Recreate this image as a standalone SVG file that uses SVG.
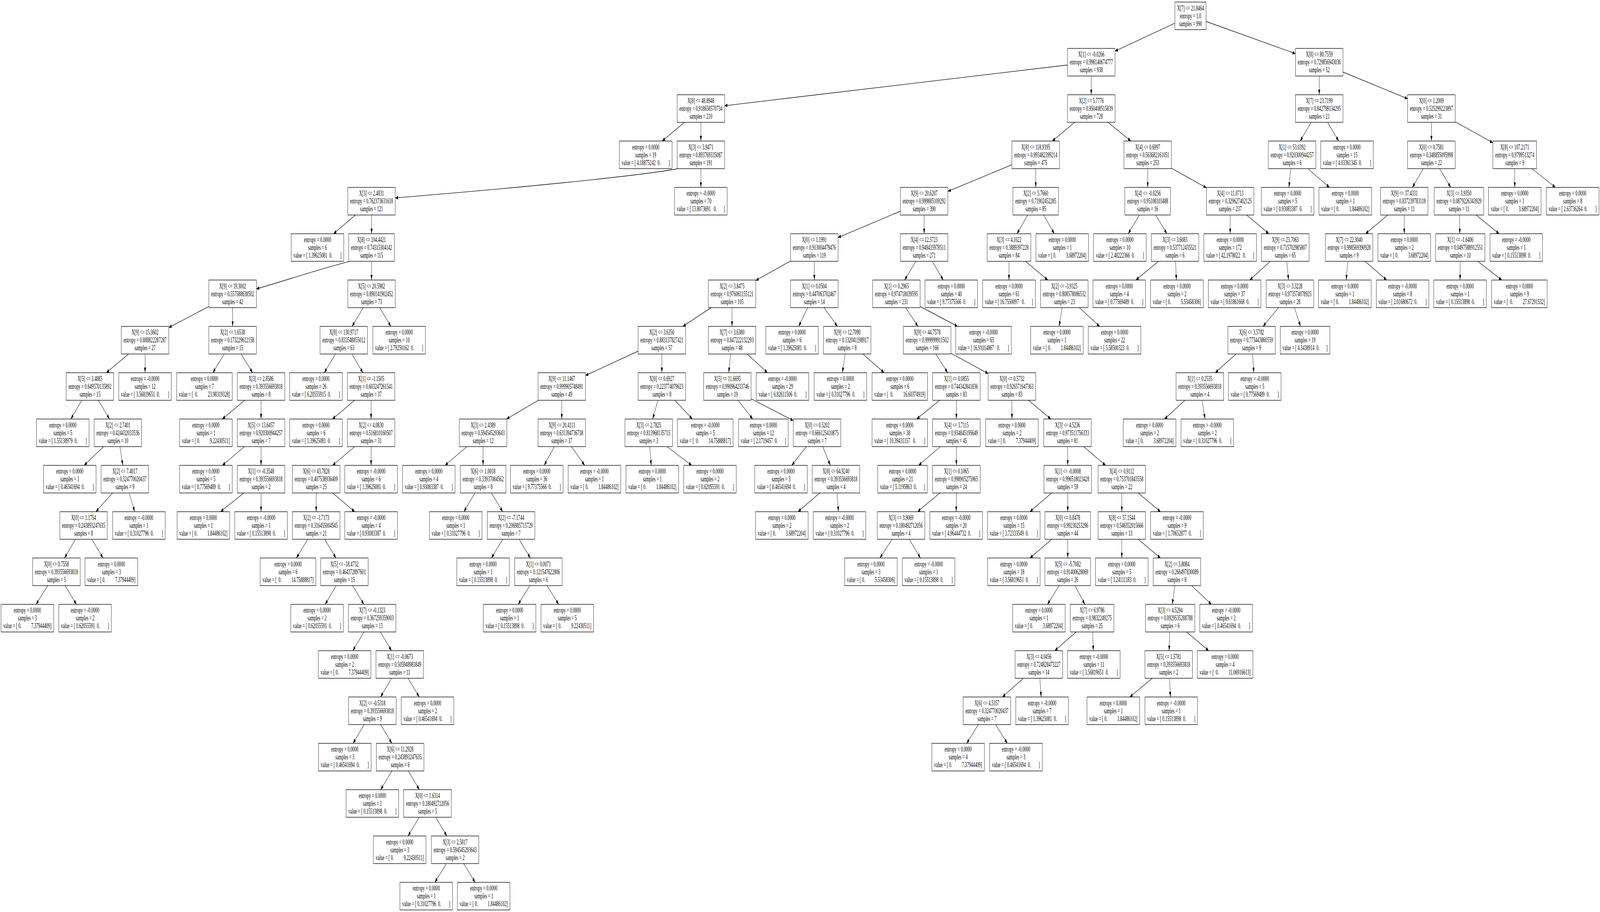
<svg xmlns="http://www.w3.org/2000/svg" width="7545" height="2336" viewBox="0 0 7545 2336" preserveAspectRatio="none" style="width:100vw;height:100vh;display:block" xml:space="preserve">
<style>
text{font-family:"Liberation Serif","Times New Roman",serif;font-size:18.67px;text-anchor:middle;white-space:pre;fill:#000}
.b{fill:#fff;stroke:#000;stroke-width:1.33}
#edges path{fill:none;stroke:#000;stroke-width:1.33;marker-end:url(#ah)}
</style>
<defs>
<marker id="ah" markerUnits="userSpaceOnUse" markerWidth="14" markerHeight="10" refX="13.3" refY="4.67" orient="auto"><path d="M0,0L13.3,4.67L0,9.33z" fill="#000"/></marker>
<rect id="w147" class="b" x="-73.5" width="147" height="70.67"/>
<rect id="w206" class="b" x="-103" width="206" height="70.67"/>
<rect id="w215" class="b" x="-107.5" width="215" height="70.67"/>
<rect id="w224" class="b" x="-112" width="224" height="70.67"/>
<rect id="w233" class="b" x="-116.5" width="233" height="70.67"/>
<rect id="w234" class="b" x="-117" width="234" height="70.67"/>
<rect id="w248" class="b" x="-124" width="248" height="70.67"/>
<rect id="w262" class="b" x="-131" width="262" height="70.67"/>
</defs>
<rect width="7545" height="2336" fill="#fff"/>
<g id="edges">
<path d="M5540.5,59.3L5258,130.9"/><path d="M5687.5,55L6109,137.4"/><path d="M5034,166.5L3417,270.8"/><path d="M5146,194.7L5146,242.7"/><path d="M6221,194.7L6221,242.7"/><path d="M6333,184.5L6638,252.9"/>
<path d="M3227.6,313.3L3122.4,361.3"/><path d="M3305,313.3L3305,361.3"/><path d="M5068,313.3L4962,361.3"/><path d="M5225.2,313.3L5332.8,361.3"/><path d="M6182.9,313.3L6131.1,361.3"/><path d="M6260,313.3L6313,361.3"/><path d="M6750,313.3L6750,361.3"/><path d="M6862,311.8L7040,365.6"/>
<path d="M3197,432C3000,452 2400,483 1864,507"/><path d="M3305,432L3305,480"/><path d="M4772,421.9L4470,490.1"/><path d="M4884,432L4884,480"/><path d="M5412,432L5412,480"/><path d="M5524,430.8L5689,481.1"/><path d="M6086.7,432L6078.3,480"/><path d="M6167.7,432L6269.3,480"/><path d="M6711.9,432L6660.1,480"/><path d="M6788.7,432L6841.3,480"/><path d="M7143,432L7143,480"/><path d="M7224.3,432L7334.7,480"/>
<path d="M1676.1,550.7L1572.9,598.7"/><path d="M1752,550.7L1752,598.7"/><path d="M4246,541L3952,608.3"/><path d="M4358,550.7L4358,598.7"/><path d="M4846.5,550.7L4795.5,598.7"/><path d="M4921.2,550.7L4971.8,598.7"/><path d="M5373,550.7L5320,598.7"/><path d="M5450.4,550.7L5502.6,598.7"/><path d="M5801,550.7L5801,598.7"/><path d="M5878.4,550.7L5983.6,598.7"/><path d="M6544.6,550.7L6439.4,598.7"/><path d="M6622,550.7L6622,598.7"/><path d="M6881.8,550.7L6884.2,598.7"/><path d="M6960.4,550.7L7069.6,598.7"/>
<path d="M1650,669.3C1500,690 1350,718 1209,740"/><path d="M1752,669.3L1752,717.3"/><path d="M3728,668.3L3564,718.4"/><path d="M3840,669.3L3840,717.3"/><path d="M4319,669.3L4266,717.3"/><path d="M4396.1,669.3L4447.9,717.3"/><path d="M4758,669.3L4758,717.3"/><path d="M4835.7,669.3L4941.3,717.3"/><path d="M5462.7,669.3L5356.3,717.3"/><path d="M5543.7,669.3L5547.3,717.3"/><path d="M5989.8,669.3L5893.2,717.3"/><path d="M6067.5,669.3L6076.5,717.3"/><path d="M6356,669.3L6348,717.3"/><path d="M6437,669.3L6539,717.3"/><path d="M6886,669.3L6885,717.3"/><path d="M6969,669.3L7082,717.3"/>
<path d="M985,784.8L796,839.1"/><path d="M1097,788L1097,836"/><path d="M1713,788L1660,836"/><path d="M1790.7,788L1843.3,836"/><path d="M3353.5,788L3219.5,836"/><path d="M3452,788L3452,836"/><path d="M3808.7,788L3766.3,836"/><path d="M3886.1,788L3948.9,836"/><path d="M4270.2,788L4328.8,836"/><path d="M4339,785L4515.6,836"/><path d="M5008.6,788L4994.4,836"/><path d="M5089.6,788L5185.4,836"/><path d="M6029.1,788L5955.9,836"/><path d="M6104.1,788L6132.9,836"/>
<path d="M606.6,906.7L501.4,954.7"/><path d="M684,906.7L684,954.7"/><path d="M1057.4,906.7L1003.6,954.7"/><path d="M1136.9,906.7L1191.1,954.7"/><path d="M1582,906.7L1529,954.7"/><path d="M1659.4,906.7L1711.6,954.7"/><path d="M3009,899.5L2761,961.8"/><path d="M3121,906.7L3121,954.7"/><path d="M3445.5,906.7L3436.5,954.7"/><path d="M3522.9,906.7L3619.1,954.7"/><path d="M3985.5,906.7L3972.5,954.7"/><path d="M4068.8,906.7L4169.2,954.7"/><path d="M4413.1,906.7L4468.9,954.7"/><path d="M4484,904.6L4660,956.8"/><path d="M5829.4,906.7L5730.6,954.7"/><path d="M5906.5,906.7L5912.5,954.7"/>
<path d="M385.9,1025.3L334.1,1073.3"/><path d="M463.3,1025.3L516.7,1073.3"/><path d="M1153.6,1025.3L1048.4,1073.3"/><path d="M1231,1025.3L1231,1073.3"/><path d="M1672.6,1025.3L1567.4,1073.3"/><path d="M1750,1025.3L1750,1073.3"/><path d="M2538.6,1025.3L2388.4,1073.3"/><path d="M2649,1025.3L2649,1073.3"/><path d="M3102.5,1025.3L3077.5,1073.3"/><path d="M3182,1025.3L3265,1073.3"/><path d="M3480.6,1025.3L3549.4,1073.3"/><path d="M3542,1021.4L3741,1077.3"/><path d="M4430.5,1025.3L4322.5,1073.3"/><path d="M4510,1025.3L4510,1073.3"/><path d="M4772,1025.3L4772,1073.3"/><path d="M4850,1025.3L4956,1073.3"/><path d="M5587.4,1025.3L5491.6,1073.3"/><path d="M5668.4,1025.3L5682.6,1073.3"/>
<path d="M488.4,1144L396.6,1192"/><path d="M565.8,1144L579.2,1192"/><path d="M1153.6,1144L1048.4,1192"/><path d="M1231,1144L1231,1192"/><path d="M1672.9,1144L1568.1,1192"/><path d="M1750,1144L1750,1192"/><path d="M2201.8,1144L2098.2,1192"/><path d="M2278,1144L2278,1192"/><path d="M2613.9,1144L2566.1,1192"/><path d="M2694.8,1144L2757.2,1192"/><path d="M3064.1,1144L3070.9,1192"/><path d="M3145,1144L3262,1192"/><path d="M3802.4,1144L3733.6,1192"/><path d="M3879.5,1144L3915.5,1192"/><path d="M4434.4,1144L4331.6,1192"/><path d="M4510,1144L4510,1192"/><path d="M5034,1144L5035,1192"/><path d="M5110.2,1144L5213.8,1192"/>
<path d="M531,1262.7L452,1310.7"/><path d="M608.6,1262.7L635.4,1310.7"/><path d="M1150,1262.7L1040,1310.7"/><path d="M1231,1262.7L1231,1310.7"/><path d="M1491,1262.7L1491,1310.7"/><path d="M1568.1,1262.7L1672.9,1310.7"/><path d="M2239.6,1262.7L2187.4,1310.7"/><path d="M2317.3,1262.7L2370.7,1310.7"/><path d="M3866.1,1262.7L3762.9,1310.7"/><path d="M3947.1,1262.7L3953.9,1310.7"/><path d="M4432.3,1262.7L4326.7,1310.7"/><path d="M4510,1262.7L4509,1310.7"/><path d="M4959.4,1262.7L4856.6,1310.7"/><path d="M5035,1262.7L5035,1310.7"/><path d="M5290,1262.7L5290,1310.7"/><path d="M5367.4,1262.7L5472.6,1310.7"/>
<path d="M355.9,1381.3L304.1,1429.3"/><path d="M433,1381.3L486,1429.3"/><path d="M1451.4,1381.3L1397.6,1429.3"/><path d="M1530.6,1381.3L1584.4,1429.3"/><path d="M2370.7,1381.3L2317.3,1429.3"/><path d="M2448.4,1381.3L2500.6,1429.3"/><path d="M4206.7,1381.3L4149.3,1429.3"/><path d="M4287.7,1381.3L4340.3,1429.3"/><path d="M4959.4,1381.3L4856.6,1429.3"/><path d="M5035,1381.3L5035,1429.3"/><path d="M5290,1381.3L5290,1429.3"/><path d="M5367.4,1381.3L5472.6,1429.3"/>
<path d="M225.2,1500L169.8,1548"/><path d="M306.2,1500L360.8,1548"/><path d="M1585.6,1500L1533.4,1548"/><path d="M1663,1500L1716,1548"/><path d="M2498.5,1500L2443.5,1548"/><path d="M2579.5,1500L2634.5,1548"/><path d="M4994.5,1500L4939.5,1548"/><path d="M5069.2,1500L5115.8,1548"/><path d="M5540.5,1500L5527.5,1548"/><path d="M5619.1,1500L5712.9,1548"/>
<path d="M1716.3,1618.7L1663.7,1666.7"/><path d="M1793.7,1618.7L1846.3,1666.7"/><path d="M5075.3,1618.7L4973.7,1666.7"/><path d="M5152.4,1618.7L5155.6,1666.7"/><path d="M5515.9,1618.7L5513.1,1666.7"/><path d="M5595.1,1618.7L5699.9,1666.7"/>
<path d="M1846.6,1737.3L1794.4,1785.3"/><path d="M1924,1737.3L1977,1785.3"/><path d="M4826.1,1737.3L4726.9,1785.3"/><path d="M4903.5,1737.3L4909.5,1785.3"/><path d="M5433.3,1737.3L5327.7,1785.3"/><path d="M5514.6,1737.3L5519.4,1785.3"/>
<path d="M1717.3,1856L1664.7,1904"/><path d="M1795,1856L1848,1904"/><path d="M4613.5,1856L4558.5,1904"/><path d="M4694.8,1856L4750.2,1904"/>
<path d="M1848,1974.7L1795,2022.7"/><path d="M1925.4,1974.7L1977.6,2022.7"/><path d="M1977,2093.3L1924,2141.3"/><path d="M2054.7,2093.3L2107.3,2141.3"/><path d="M2105.5,2212L2050.5,2260"/><path d="M2186.2,2212L2240.8,2260"/>
</g>
<g id="n0" transform="translate(5614,5.33)"><use href="#w147"/><text y="21.3">X[7] &lt;= 21.8464<tspan x="0" dy="20">entropy = 1.0</tspan><tspan x="0" dy="20">samples = 990</tspan></text></g>
<g id="n1" transform="translate(5146,124)"><use href="#w224"/><text y="21.3">X[1] &lt;= -0.0266<tspan x="0" dy="20">entropy = 0.996140674777</tspan><tspan x="0" dy="20">samples = 938</tspan></text></g>
<g id="n2" transform="translate(6221,124)"><use href="#w224"/><text y="21.3">X[8] &lt;= 80.7559<tspan x="0" dy="20">entropy = 0.729856943036</tspan><tspan x="0" dy="20">samples = 52</tspan></text></g>
<g id="n3" transform="translate(3305,242.67)"><use href="#w224"/><text y="21.3">X[8] &lt;= 48.8948<tspan x="0" dy="20">entropy = 0.918658570734</tspan><tspan x="0" dy="20">samples = 210</tspan></text></g>
<g id="n4" transform="translate(5146,242.67)"><use href="#w224"/><text y="21.3">X[2] &lt;= 5.7776<tspan x="0" dy="20">entropy = 0.950408515839</tspan><tspan x="0" dy="20">samples = 728</tspan></text></g>
<g id="n5" transform="translate(6221,242.67)"><use href="#w224"/><text y="21.3">X[7] &lt;= 23.7199<tspan x="0" dy="20">entropy = 0.842799134295</tspan><tspan x="0" dy="20">samples = 21</tspan></text></g>
<g id="n6" transform="translate(6750,242.67)"><use href="#w224"/><text y="21.3">X[0] &lt;= 1.2009<tspan x="0" dy="20">entropy = 0.525299223897</tspan><tspan x="0" dy="20">samples = 31</tspan></text></g>
<g id="n7" transform="translate(3045,361.33)"><use href="#w248"/><text y="21.3">entropy = 0.0000<tspan x="0" dy="20">samples = 19</tspan><tspan x="0" dy="20">value = [ 4.18875242  0.        ]</tspan></text></g>
<g id="n8" transform="translate(3305,361.33)"><use href="#w224"/><text y="21.3">X[3] &lt;= 3.9471<tspan x="0" dy="20">entropy = 0.893769335087</tspan><tspan x="0" dy="20">samples = 191</tspan></text></g>
<g id="n9" transform="translate(4884,361.33)"><use href="#w224"/><text y="21.3">X[8] &lt;= 118.9395<tspan x="0" dy="20">entropy = 0.993482399214</tspan><tspan x="0" dy="20">samples = 475</tspan></text></g>
<g id="n10" transform="translate(5412,361.33)"><use href="#w224"/><text y="21.3">X[4] &lt;= 0.6997<tspan x="0" dy="20">entropy = 0.563682161051</tspan><tspan x="0" dy="20">samples = 253</tspan></text></g>
<g id="n11" transform="translate(6093,361.33)"><use href="#w224"/><text y="21.3">X[1] &lt;= 53.0392<tspan x="0" dy="20">entropy = 0.920300944257</tspan><tspan x="0" dy="20">samples = 6</tspan></text></g>
<g id="n12" transform="translate(6352,361.33)"><use href="#w248"/><text y="21.3">entropy = 0.0000<tspan x="0" dy="20">samples = 15</tspan><tspan x="0" dy="20">value = [ 4.03361345  0.        ]</tspan></text></g>
<g id="n13" transform="translate(6750,361.33)"><use href="#w224"/><text y="21.3">X[0] &lt;= 0.7581<tspan x="0" dy="20">entropy = 0.348855095998</tspan><tspan x="0" dy="20">samples = 22</tspan></text></g>
<g id="n14" transform="translate(7143,361.33)"><use href="#w206"/><text y="21.3">X[8] &lt;= 107.2171<tspan x="0" dy="20">entropy = 0.9799513274</tspan><tspan x="0" dy="20">samples = 9</tspan></text></g>
<g id="n15" transform="translate(1752,480)"><use href="#w224"/><text y="21.3">X[3] &lt;= 2.4831<tspan x="0" dy="20">entropy = 0.762373631618</tspan><tspan x="0" dy="20">samples = 121</tspan></text></g>
<g id="n16" transform="translate(3305,480)"><use href="#w248"/><text y="21.3">entropy = -0.0000<tspan x="0" dy="20">samples = 70</tspan><tspan x="0" dy="20">value = [ 13.8073691   0.       ]</tspan></text></g>
<g id="n17" transform="translate(4358,480)"><use href="#w224"/><text y="21.3">X[9] &lt;= 20.6207<tspan x="0" dy="20">entropy = 0.999885109292</tspan><tspan x="0" dy="20">samples = 390</tspan></text></g>
<g id="n18" transform="translate(4884,480)"><use href="#w215"/><text y="21.3">X[2] &lt;= 5.7660<tspan x="0" dy="20">entropy = 0.71902452285</tspan><tspan x="0" dy="20">samples = 85</tspan></text></g>
<g id="n19" transform="translate(5412,480)"><use href="#w215"/><text y="21.3">X[4] &lt;= -0.0256<tspan x="0" dy="20">entropy = 0.95108103488</tspan><tspan x="0" dy="20">samples = 16</tspan></text></g>
<g id="n20" transform="translate(5801,480)"><use href="#w224"/><text y="21.3">X[4] &lt;= 11.0713<tspan x="0" dy="20">entropy = 0.329627402125</tspan><tspan x="0" dy="20">samples = 237</tspan></text></g>
<g id="n21" transform="translate(6072,480)"><use href="#w248"/><text y="21.3">entropy = 0.0000<tspan x="0" dy="20">samples = 5</tspan><tspan x="0" dy="20">value = [ 0.93083387  0.        ]</tspan></text></g>
<g id="n22" transform="translate(6344,480)"><use href="#w248"/><text y="21.3">entropy = 0.0000<tspan x="0" dy="20">samples = 1</tspan><tspan x="0" dy="20">value = [ 0.          1.84486102]</tspan></text></g>
<g id="n23" transform="translate(6622,480)"><use href="#w224"/><text y="21.3">X[9] &lt;= 37.4331<tspan x="0" dy="20">entropy = 0.837239783118</tspan><tspan x="0" dy="20">samples = 11</tspan></text></g>
<g id="n24" transform="translate(6880,480)"><use href="#w233"/><text y="21.3">X[3] &lt;= 3.9350<tspan x="0" dy="20">entropy = 0.0879226343929</tspan><tspan x="0" dy="20">samples = 11</tspan></text></g>
<g id="n25" transform="translate(7143,480)"><use href="#w248"/><text y="21.3">entropy = 0.0000<tspan x="0" dy="20">samples = 1</tspan><tspan x="0" dy="20">value = [ 0.          3.68972204]</tspan></text></g>
<g id="n26" transform="translate(7416,480)"><use href="#w248"/><text y="21.3">entropy = 0.0000<tspan x="0" dy="20">samples = 8</tspan><tspan x="0" dy="20">value = [ 2.63736264  0.        ]</tspan></text></g>
<g id="n27" transform="translate(1497,598.67)"><use href="#w248"/><text y="21.3">entropy = 0.0000<tspan x="0" dy="20">samples = 6</tspan><tspan x="0" dy="20">value = [ 1.39625081  0.        ]</tspan></text></g>
<g id="n28" transform="translate(1752,598.67)"><use href="#w215"/><text y="21.3">X[8] &lt;= 104.4421<tspan x="0" dy="20">entropy = 0.74315304142</tspan><tspan x="0" dy="20">samples = 115</tspan></text></g>
<g id="n29" transform="translate(3840,598.67)"><use href="#w224"/><text y="21.3">X[0] &lt;= 1.1991<tspan x="0" dy="20">entropy = 0.913004479476</tspan><tspan x="0" dy="20">samples = 119</tspan></text></g>
<g id="n30" transform="translate(4358,598.67)"><use href="#w224"/><text y="21.3">X[4] &lt;= 12.5723<tspan x="0" dy="20">entropy = 0.948435978511</tspan><tspan x="0" dy="20">samples = 271</tspan></text></g>
<g id="n31" transform="translate(4758,598.67)"><use href="#w206"/><text y="21.3">X[3] &lt;= 4.1022<tspan x="0" dy="20">entropy = 0.3889397228</tspan><tspan x="0" dy="20">samples = 84</tspan></text></g>
<g id="n32" transform="translate(5009,598.67)"><use href="#w248"/><text y="21.3">entropy = 0.0000<tspan x="0" dy="20">samples = 1</tspan><tspan x="0" dy="20">value = [ 0.          3.68972204]</tspan></text></g>
<g id="n33" transform="translate(5281,598.67)"><use href="#w248"/><text y="21.3">entropy = 0.0000<tspan x="0" dy="20">samples = 10</tspan><tspan x="0" dy="20">value = [ 2.48222366  0.        ]</tspan></text></g>
<g id="n34" transform="translate(5541,598.67)"><use href="#w224"/><text y="21.3">X[3] &lt;= 3.6083<tspan x="0" dy="20">entropy = 0.537712435521</tspan><tspan x="0" dy="20">samples = 6</tspan></text></g>
<g id="n35" transform="translate(5801,598.67)"><use href="#w248"/><text y="21.3">entropy = 0.0000<tspan x="0" dy="20">samples = 172</tspan><tspan x="0" dy="20">value = [ 42.1978022   0.       ]</tspan></text></g>
<g id="n36" transform="translate(6061,598.67)"><use href="#w224"/><text y="21.3">X[9] &lt;= 23.7063<tspan x="0" dy="20">entropy = 0.715702985807</tspan><tspan x="0" dy="20">samples = 65</tspan></text></g>
<g id="n37" transform="translate(6362,598.67)"><use href="#w224"/><text y="21.3">X[7] &lt;= 22.3040<tspan x="0" dy="20">entropy = 0.998569390928</tspan><tspan x="0" dy="20">samples = 9</tspan></text></g>
<g id="n38" transform="translate(6622,598.67)"><use href="#w248"/><text y="21.3">entropy = 0.0000<tspan x="0" dy="20">samples = 2</tspan><tspan x="0" dy="20">value = [ 0.          3.68972204]</tspan></text></g>
<g id="n39" transform="translate(6886,598.67)"><use href="#w233"/><text y="21.3">X[1] &lt;= -1.6406<tspan x="0" dy="20">entropy = 0.0497588912551</tspan><tspan x="0" dy="20">samples = 10</tspan></text></g>
<g id="n40" transform="translate(7150,598.67)"><use href="#w248"/><text y="21.3">entropy = -0.0000<tspan x="0" dy="20">samples = 1</tspan><tspan x="0" dy="20">value = [ 0.15513898  0.        ]</tspan></text></g>
<g id="n41" transform="translate(1097,717.33)"><use href="#w224"/><text y="21.3">X[9] &lt;= 19.3002<tspan x="0" dy="20">entropy = 0.557588638502</tspan><tspan x="0" dy="20">samples = 42</tspan></text></g>
<g id="n42" transform="translate(1752,717.33)"><use href="#w224"/><text y="21.3">X[5] &lt;= 20.5982<tspan x="0" dy="20">entropy = 0.890141902452</tspan><tspan x="0" dy="20">samples = 73</tspan></text></g>
<g id="n43" transform="translate(3452,717.33)"><use href="#w224"/><text y="21.3">X[2] &lt;= 3.8475<tspan x="0" dy="20">entropy = 0.976061155121</tspan><tspan x="0" dy="20">samples = 105</tspan></text></g>
<g id="n44" transform="translate(3840,717.33)"><use href="#w224"/><text y="21.3">X[1] &lt;= 0.0504<tspan x="0" dy="20">entropy = 0.447063702467</tspan><tspan x="0" dy="20">samples = 14</tspan></text></g>
<g id="n45" transform="translate(4227,717.33)"><use href="#w224"/><text y="21.3">X[1] &lt;= 0.2965<tspan x="0" dy="20">entropy = 0.974718039595</tspan><tspan x="0" dy="20">samples = 231</tspan></text></g>
<g id="n46" transform="translate(4486,717.33)"><use href="#w248"/><text y="21.3">entropy = 0.0000<tspan x="0" dy="20">samples = 40</tspan><tspan x="0" dy="20">value = [ 9.77375566  0.        ]</tspan></text></g>
<g id="n47" transform="translate(4758,717.33)"><use href="#w248"/><text y="21.3">entropy = 0.0000<tspan x="0" dy="20">samples = 61</tspan><tspan x="0" dy="20">value = [ 16.7550097   0.       ]</tspan></text></g>
<g id="n48" transform="translate(5019,717.33)"><use href="#w224"/><text y="21.3">X[2] &lt;= -3.9325<tspan x="0" dy="20">entropy = 0.808578086532</tspan><tspan x="0" dy="20">samples = 23</tspan></text></g>
<g id="n49" transform="translate(5278,717.33)"><use href="#w248"/><text y="21.3">entropy = 0.0000<tspan x="0" dy="20">samples = 4</tspan><tspan x="0" dy="20">value = [ 0.77569489  0.        ]</tspan></text></g>
<g id="n50" transform="translate(5550,717.33)"><use href="#w248"/><text y="21.3">entropy = 0.0000<tspan x="0" dy="20">samples = 2</tspan><tspan x="0" dy="20">value = [ 0.          5.53458306]</tspan></text></g>
<g id="n51" transform="translate(5822,717.33)"><use href="#w248"/><text y="21.3">entropy = 0.0000<tspan x="0" dy="20">samples = 37</tspan><tspan x="0" dy="20">value = [ 9.61861668  0.        ]</tspan></text></g>
<g id="n52" transform="translate(6083,717.33)"><use href="#w224"/><text y="21.3">X[3] &lt;= 3.3228<tspan x="0" dy="20">entropy = 0.973574078925</tspan><tspan x="0" dy="20">samples = 28</tspan></text></g>
<g id="n53" transform="translate(6342,717.33)"><use href="#w248"/><text y="21.3">entropy = 0.0000<tspan x="0" dy="20">samples = 1</tspan><tspan x="0" dy="20">value = [ 0.          1.84486102]</tspan></text></g>
<g id="n54" transform="translate(6614,717.33)"><use href="#w248"/><text y="21.3">entropy = -0.0000<tspan x="0" dy="20">samples = 8</tspan><tspan x="0" dy="20">value = [ 2.01680672  0.        ]</tspan></text></g>
<g id="n55" transform="translate(6885,717.33)"><use href="#w248"/><text y="21.3">entropy = 0.0000<tspan x="0" dy="20">samples = 1</tspan><tspan x="0" dy="20">value = [ 0.15513898  0.        ]</tspan></text></g>
<g id="n56" transform="translate(7165,717.33)"><use href="#w262"/><text y="21.3">entropy = 0.0000<tspan x="0" dy="20">samples = 9</tspan><tspan x="0" dy="20">value = [  0.          27.67291532]</tspan></text></g>
<g id="n57" transform="translate(684,836)"><use href="#w224"/><text y="21.3">X[9] &lt;= 15.3602<tspan x="0" dy="20">entropy = 0.888822287287</tspan><tspan x="0" dy="20">samples = 27</tspan></text></g>
<g id="n58" transform="translate(1097,836)"><use href="#w224"/><text y="21.3">X[2] &lt;= 1.6538<tspan x="0" dy="20">entropy = 0.173229612158</tspan><tspan x="0" dy="20">samples = 15</tspan></text></g>
<g id="n59" transform="translate(1621,836)"><use href="#w224"/><text y="21.3">X[8] &lt;= 130.9717<tspan x="0" dy="20">entropy = 0.833548855012</tspan><tspan x="0" dy="20">samples = 63</tspan></text></g>
<g id="n60" transform="translate(1882,836)"><use href="#w248"/><text y="21.3">entropy = 0.0000<tspan x="0" dy="20">samples = 10</tspan><tspan x="0" dy="20">value = [ 2.79250162  0.        ]</tspan></text></g>
<g id="n61" transform="translate(3121,836)"><use href="#w224"/><text y="21.3">X[2] &lt;= 3.6350<tspan x="0" dy="20">entropy = 0.883137827421</tspan><tspan x="0" dy="20">samples = 57</tspan></text></g>
<g id="n62" transform="translate(3452,836)"><use href="#w224"/><text y="21.3">X[7] &lt;= 3.6380<tspan x="0" dy="20">entropy = 0.847222132293</tspan><tspan x="0" dy="20">samples = 48</tspan></text></g>
<g id="n63" transform="translate(3735,836)"><use href="#w248"/><text y="21.3">entropy = 0.0000<tspan x="0" dy="20">samples = 6</tspan><tspan x="0" dy="20">value = [ 1.39625081  0.        ]</tspan></text></g>
<g id="n64" transform="translate(3995,836)"><use href="#w224"/><text y="21.3">X[9] &lt;= 12.7090<tspan x="0" dy="20">entropy = 0.132041198917</tspan><tspan x="0" dy="20">samples = 8</tspan></text></g>
<g id="n65" transform="translate(4372,836)"><use href="#w224"/><text y="21.3">X[9] &lt;= 44.7578<tspan x="0" dy="20">entropy = 0.999999911502</tspan><tspan x="0" dy="20">samples = 166</tspan></text></g>
<g id="n66" transform="translate(4638,836)"><use href="#w262"/><text y="21.3">entropy = -0.0000<tspan x="0" dy="20">samples = 65</tspan><tspan x="0" dy="20">value = [ 16.91014867   0.        ]</tspan></text></g>
<g id="n67" transform="translate(4984,836)"><use href="#w248"/><text y="21.3">entropy = 0.0000<tspan x="0" dy="20">samples = 1</tspan><tspan x="0" dy="20">value = [ 0.          1.84486102]</tspan></text></g>
<g id="n68" transform="translate(5256,836)"><use href="#w248"/><text y="21.3">entropy = 0.0000<tspan x="0" dy="20">samples = 22</tspan><tspan x="0" dy="20">value = [ 5.58500323  0.        ]</tspan></text></g>
<g id="n69" transform="translate(5902,836)"><use href="#w224"/><text y="21.3">X[6] &lt;= 3.5782<tspan x="0" dy="20">entropy = 0.773443860559</tspan><tspan x="0" dy="20">samples = 9</tspan></text></g>
<g id="n70" transform="translate(6154,836)"><use href="#w234"/><text y="21.3">entropy = 0.0000<tspan x="0" dy="20">samples = 19</tspan><tspan x="0" dy="20">value = [ 4.3438914  0.       ]</tspan></text></g>
<g id="n71" transform="translate(424,954.67)"><use href="#w224"/><text y="21.3">X[5] &lt;= 3.4885<tspan x="0" dy="20">entropy = 0.649570135892</tspan><tspan x="0" dy="20">samples = 15</tspan></text></g>
<g id="n72" transform="translate(684,954.67)"><use href="#w248"/><text y="21.3">entropy = -0.0000<tspan x="0" dy="20">samples = 12</tspan><tspan x="0" dy="20">value = [ 3.56819651  0.        ]</tspan></text></g>
<g id="n73" transform="translate(964,954.67)"><use href="#w262"/><text y="21.3">entropy = 0.0000<tspan x="0" dy="20">samples = 7</tspan><tspan x="0" dy="20">value = [  0.          23.98319328]</tspan></text></g>
<g id="n74" transform="translate(1231,954.67)"><use href="#w224"/><text y="21.3">X[3] &lt;= 2.8586<tspan x="0" dy="20">entropy = 0.393556693818</tspan><tspan x="0" dy="20">samples = 8</tspan></text></g>
<g id="n75" transform="translate(1490,954.67)"><use href="#w248"/><text y="21.3">entropy = 0.0000<tspan x="0" dy="20">samples = 26</tspan><tspan x="0" dy="20">value = [ 6.20555915  0.        ]</tspan></text></g>
<g id="n76" transform="translate(1750,954.67)"><use href="#w224"/><text y="21.3">X[1] &lt;= -1.1505<tspan x="0" dy="20">entropy = 0.603247261541</tspan><tspan x="0" dy="20">samples = 37</tspan></text></g>
<g id="n77" transform="translate(2649,954.67)"><use href="#w224"/><text y="21.3">X[9] &lt;= 11.1467<tspan x="0" dy="20">entropy = 0.999905748491</tspan><tspan x="0" dy="20">samples = 49</tspan></text></g>
<g id="n78" transform="translate(3121,954.67)"><use href="#w224"/><text y="21.3">X[0] &lt;= 0.6927<tspan x="0" dy="20">entropy = 0.223774079623</tspan><tspan x="0" dy="20">samples = 8</tspan></text></g>
<g id="n79" transform="translate(3430,954.67)"><use href="#w224"/><text y="21.3">X[5] &lt;= 11.6695<tspan x="0" dy="20">entropy = 0.990964233746</tspan><tspan x="0" dy="20">samples = 19</tspan></text></g>
<g id="n80" transform="translate(3690,954.67)"><use href="#w248"/><text y="21.3">entropy = -0.0000<tspan x="0" dy="20">samples = 29</tspan><tspan x="0" dy="20">value = [ 6.82611506  0.        ]</tspan></text></g>
<g id="n81" transform="translate(3963,954.67)"><use href="#w248"/><text y="21.3">entropy = 0.0000<tspan x="0" dy="20">samples = 2</tspan><tspan x="0" dy="20">value = [ 0.31027796  0.        ]</tspan></text></g>
<g id="n82" transform="translate(4243,954.67)"><use href="#w262"/><text y="21.3">entropy = 0.0000<tspan x="0" dy="20">samples = 6</tspan><tspan x="0" dy="20">value = [  0.          16.60374919]</tspan></text></g>
<g id="n83" transform="translate(4510,954.67)"><use href="#w224"/><text y="21.3">X[1] &lt;= 0.0855<tspan x="0" dy="20">entropy = 0.744342841836</tspan><tspan x="0" dy="20">samples = 83</tspan></text></g>
<g id="n84" transform="translate(4772,954.67)"><use href="#w224"/><text y="21.3">X[0] &lt;= 0.5732<tspan x="0" dy="20">entropy = 0.926571647363</tspan><tspan x="0" dy="20">samples = 83</tspan></text></g>
<g id="n85" transform="translate(5658,954.67)"><use href="#w224"/><text y="21.3">X[1] &lt;= 0.2535<tspan x="0" dy="20">entropy = 0.393556693818</tspan><tspan x="0" dy="20">samples = 4</tspan></text></g>
<g id="n86" transform="translate(5917,954.67)"><use href="#w248"/><text y="21.3">entropy = -0.0000<tspan x="0" dy="20">samples = 5</tspan><tspan x="0" dy="20">value = [ 0.77569489  0.        ]</tspan></text></g>
<g id="n87" transform="translate(296,1073.33)"><use href="#w248"/><text y="21.3">entropy = 0.0000<tspan x="0" dy="20">samples = 5</tspan><tspan x="0" dy="20">value = [ 1.55138979  0.        ]</tspan></text></g>
<g id="n88" transform="translate(556,1073.33)"><use href="#w224"/><text y="21.3">X[2] &lt;= 2.7401<tspan x="0" dy="20">entropy = 0.424432033536</tspan><tspan x="0" dy="20">samples = 10</tspan></text></g>
<g id="n89" transform="translate(971,1073.33)"><use href="#w248"/><text y="21.3">entropy = 0.0000<tspan x="0" dy="20">samples = 1</tspan><tspan x="0" dy="20">value = [ 0.          9.22430511]</tspan></text></g>
<g id="n90" transform="translate(1231,1073.33)"><use href="#w224"/><text y="21.3">X[5] &lt;= 13.6457<tspan x="0" dy="20">entropy = 0.920300944257</tspan><tspan x="0" dy="20">samples = 7</tspan></text></g>
<g id="n91" transform="translate(1490,1073.33)"><use href="#w248"/><text y="21.3">entropy = 0.0000<tspan x="0" dy="20">samples = 6</tspan><tspan x="0" dy="20">value = [ 1.39625081  0.        ]</tspan></text></g>
<g id="n92" transform="translate(1750,1073.33)"><use href="#w224"/><text y="21.3">X[2] &lt;= 4.0830<tspan x="0" dy="20">entropy = 0.516810160507</tspan><tspan x="0" dy="20">samples = 31</tspan></text></g>
<g id="n93" transform="translate(2278,1073.33)"><use href="#w224"/><text y="21.3">X[3] &lt;= 2.4389<tspan x="0" dy="20">entropy = 0.594545293643</tspan><tspan x="0" dy="20">samples = 12</tspan></text></g>
<g id="n94" transform="translate(2649,1073.33)"><use href="#w224"/><text y="21.3">X[9] &lt;= 20.4111<tspan x="0" dy="20">entropy = 0.631394736738</tspan><tspan x="0" dy="20">samples = 37</tspan></text></g>
<g id="n95" transform="translate(3059,1073.33)"><use href="#w224"/><text y="21.3">X[3] &lt;= 2.7825<tspan x="0" dy="20">entropy = 0.813968135715</tspan><tspan x="0" dy="20">samples = 3</tspan></text></g>
<g id="n96" transform="translate(3326,1073.33)"><use href="#w262"/><text y="21.3">entropy = -0.0000<tspan x="0" dy="20">samples = 5</tspan><tspan x="0" dy="20">value = [  0.          14.75888817]</tspan></text></g>
<g id="n97" transform="translate(3600,1073.33)"><use href="#w234"/><text y="21.3">entropy = 0.0000<tspan x="0" dy="20">samples = 12</tspan><tspan x="0" dy="20">value = [ 2.1719457  0.       ]</tspan></text></g>
<g id="n98" transform="translate(3853,1073.33)"><use href="#w224"/><text y="21.3">X[0] &lt;= 0.5202<tspan x="0" dy="20">entropy = 0.666125410875</tspan><tspan x="0" dy="20">samples = 7</tspan></text></g>
<g id="n99" transform="translate(4243,1073.33)"><use href="#w262"/><text y="21.3">entropy = 0.0000<tspan x="0" dy="20">samples = 38</tspan><tspan x="0" dy="20">value = [ 10.39431157   0.        ]</tspan></text></g>
<g id="n100" transform="translate(4510,1073.33)"><use href="#w224"/><text y="21.3">X[4] &lt;= 3.7115<tspan x="0" dy="20">entropy = 0.934845195649</tspan><tspan x="0" dy="20">samples = 45</tspan></text></g>
<g id="n101" transform="translate(4772,1073.33)"><use href="#w248"/><text y="21.3">entropy = 0.0000<tspan x="0" dy="20">samples = 2</tspan><tspan x="0" dy="20">value = [ 0.          7.37944409]</tspan></text></g>
<g id="n102" transform="translate(5034,1073.33)"><use href="#w224"/><text y="21.3">X[3] &lt;= 4.5236<tspan x="0" dy="20">entropy = 0.973511756333</tspan><tspan x="0" dy="20">samples = 81</tspan></text></g>
<g id="n103" transform="translate(5421,1073.33)"><use href="#w248"/><text y="21.3">entropy = 0.0000<tspan x="0" dy="20">samples = 2</tspan><tspan x="0" dy="20">value = [ 0.          3.68972204]</tspan></text></g>
<g id="n104" transform="translate(5693,1073.33)"><use href="#w248"/><text y="21.3">entropy = -0.0000<tspan x="0" dy="20">samples = 2</tspan><tspan x="0" dy="20">value = [ 0.31027796  0.        ]</tspan></text></g>
<g id="n105" transform="translate(329,1192)"><use href="#w248"/><text y="21.3">entropy = 0.0000<tspan x="0" dy="20">samples = 1</tspan><tspan x="0" dy="20">value = [ 0.46541694  0.        ]</tspan></text></g>
<g id="n106" transform="translate(589,1192)"><use href="#w224"/><text y="21.3">X[2] &lt;= 7.4017<tspan x="0" dy="20">entropy = 0.324770020437</tspan><tspan x="0" dy="20">samples = 9</tspan></text></g>
<g id="n107" transform="translate(971,1192)"><use href="#w248"/><text y="21.3">entropy = 0.0000<tspan x="0" dy="20">samples = 5</tspan><tspan x="0" dy="20">value = [ 0.77569489  0.        ]</tspan></text></g>
<g id="n108" transform="translate(1231,1192)"><use href="#w224"/><text y="21.3">X[1] &lt;= -0.3548<tspan x="0" dy="20">entropy = 0.393556693818</tspan><tspan x="0" dy="20">samples = 2</tspan></text></g>
<g id="n109" transform="translate(1491,1192)"><use href="#w224"/><text y="21.3">X[6] &lt;= 43.7828<tspan x="0" dy="20">entropy = 0.407538936409</tspan><tspan x="0" dy="20">samples = 25</tspan></text></g>
<g id="n110" transform="translate(1750,1192)"><use href="#w248"/><text y="21.3">entropy = -0.0000<tspan x="0" dy="20">samples = 6</tspan><tspan x="0" dy="20">value = [ 1.39625081  0.        ]</tspan></text></g>
<g id="n111" transform="translate(2022,1192)"><use href="#w248"/><text y="21.3">entropy = 0.0000<tspan x="0" dy="20">samples = 4</tspan><tspan x="0" dy="20">value = [ 0.93083387  0.        ]</tspan></text></g>
<g id="n112" transform="translate(2278,1192)"><use href="#w215"/><text y="21.3">X[6] &lt;= 1.0018<tspan x="0" dy="20">entropy = 0.33937084562</tspan><tspan x="0" dy="20">samples = 8</tspan></text></g>
<g id="n113" transform="translate(2531,1192)"><use href="#w248"/><text y="21.3">entropy = 0.0000<tspan x="0" dy="20">samples = 36</tspan><tspan x="0" dy="20">value = [ 9.77375566  0.        ]</tspan></text></g>
<g id="n114" transform="translate(2803,1192)"><use href="#w248"/><text y="21.3">entropy = -0.0000<tspan x="0" dy="20">samples = 1</tspan><tspan x="0" dy="20">value = [ 0.          1.84486102]</tspan></text></g>
<g id="n115" transform="translate(3076,1192)"><use href="#w248"/><text y="21.3">entropy = 0.0000<tspan x="0" dy="20">samples = 1</tspan><tspan x="0" dy="20">value = [ 0.          1.84486102]</tspan></text></g>
<g id="n116" transform="translate(3348,1192)"><use href="#w248"/><text y="21.3">entropy = 0.0000<tspan x="0" dy="20">samples = 2</tspan><tspan x="0" dy="20">value = [ 0.62055591  0.        ]</tspan></text></g>
<g id="n117" transform="translate(3683,1192)"><use href="#w248"/><text y="21.3">entropy = 0.0000<tspan x="0" dy="20">samples = 3</tspan><tspan x="0" dy="20">value = [ 0.46541694  0.        ]</tspan></text></g>
<g id="n118" transform="translate(3942,1192)"><use href="#w224"/><text y="21.3">X[8] &lt;= 64.9240<tspan x="0" dy="20">entropy = 0.393556693818</tspan><tspan x="0" dy="20">samples = 4</tspan></text></g>
<g id="n119" transform="translate(4256,1192)"><use href="#w234"/><text y="21.3">entropy = 0.0000<tspan x="0" dy="20">samples = 21</tspan><tspan x="0" dy="20">value = [ 5.1195863  0.       ]</tspan></text></g>
<g id="n120" transform="translate(4510,1192)"><use href="#w224"/><text y="21.3">X[1] &lt;= 0.1065<tspan x="0" dy="20">entropy = 0.998905275965</tspan><tspan x="0" dy="20">samples = 24</tspan></text></g>
<g id="n121" transform="translate(5035,1192)"><use href="#w224"/><text y="21.3">X[1] &lt;= -0.0008<tspan x="0" dy="20">entropy = 0.996518023428</tspan><tspan x="0" dy="20">samples = 59</tspan></text></g>
<g id="n122" transform="translate(5290,1192)"><use href="#w224"/><text y="21.3">X[4] &lt;= 0.9112<tspan x="0" dy="20">entropy = 0.753701843558</tspan><tspan x="0" dy="20">samples = 22</tspan></text></g>
<g id="n123" transform="translate(394,1310.67)"><use href="#w224"/><text y="21.3">X[0] &lt;= 1.1754<tspan x="0" dy="20">entropy = 0.243893247635</tspan><tspan x="0" dy="20">samples = 8</tspan></text></g>
<g id="n124" transform="translate(655,1310.67)"><use href="#w248"/><text y="21.3">entropy = -0.0000<tspan x="0" dy="20">samples = 1</tspan><tspan x="0" dy="20">value = [ 0.31027796  0.        ]</tspan></text></g>
<g id="n125" transform="translate(959,1310.67)"><use href="#w248"/><text y="21.3">entropy = 0.0000<tspan x="0" dy="20">samples = 1</tspan><tspan x="0" dy="20">value = [ 0.          1.84486102]</tspan></text></g>
<g id="n126" transform="translate(1231,1310.67)"><use href="#w248"/><text y="21.3">entropy = -0.0000<tspan x="0" dy="20">samples = 1</tspan><tspan x="0" dy="20">value = [ 0.15513898  0.        ]</tspan></text></g>
<g id="n127" transform="translate(1491,1310.67)"><use href="#w224"/><text y="21.3">X[2] &lt;= -1.7173<tspan x="0" dy="20">entropy = 0.316455004545</tspan><tspan x="0" dy="20">samples = 21</tspan></text></g>
<g id="n128" transform="translate(1750,1310.67)"><use href="#w248"/><text y="21.3">entropy = -0.0000<tspan x="0" dy="20">samples = 4</tspan><tspan x="0" dy="20">value = [ 0.93083387  0.        ]</tspan></text></g>
<g id="n129" transform="translate(2149,1310.67)"><use href="#w248"/><text y="21.3">entropy = 0.0000<tspan x="0" dy="20">samples = 1</tspan><tspan x="0" dy="20">value = [ 0.31027796  0.        ]</tspan></text></g>
<g id="n130" transform="translate(2410,1310.67)"><use href="#w224"/><text y="21.3">X[2] &lt;= -7.1744<tspan x="0" dy="20">entropy = 0.206985715729</tspan><tspan x="0" dy="20">samples = 7</tspan></text></g>
<g id="n131" transform="translate(3687,1310.67)"><use href="#w248"/><text y="21.3">entropy = 0.0000<tspan x="0" dy="20">samples = 2</tspan><tspan x="0" dy="20">value = [ 0.          3.68972204]</tspan></text></g>
<g id="n132" transform="translate(3959,1310.67)"><use href="#w248"/><text y="21.3">entropy = -0.0000<tspan x="0" dy="20">samples = 2</tspan><tspan x="0" dy="20">value = [ 0.31027796  0.        ]</tspan></text></g>
<g id="n133" transform="translate(4249,1310.67)"><use href="#w224"/><text y="21.3">X[3] &lt;= 3.9069<tspan x="0" dy="20">entropy = 0.180492712056</tspan><tspan x="0" dy="20">samples = 4</tspan></text></g>
<g id="n134" transform="translate(4509,1310.67)"><use href="#w248"/><text y="21.3">entropy = -0.0000<tspan x="0" dy="20">samples = 20</tspan><tspan x="0" dy="20">value = [ 4.96444732  0.        ]</tspan></text></g>
<g id="n135" transform="translate(4781,1310.67)"><use href="#w248"/><text y="21.3">entropy = 0.0000<tspan x="0" dy="20">samples = 15</tspan><tspan x="0" dy="20">value = [ 3.72333549  0.        ]</tspan></text></g>
<g id="n136" transform="translate(5035,1310.67)"><use href="#w215"/><text y="21.3">X[0] &lt;= 0.8478<tspan x="0" dy="20">entropy = 0.99230253296</tspan><tspan x="0" dy="20">samples = 44</tspan></text></g>
<g id="n137" transform="translate(5290,1310.67)"><use href="#w224"/><text y="21.3">X[8] &lt;= 57.1544<tspan x="0" dy="20">entropy = 0.546352015666</tspan><tspan x="0" dy="20">samples = 13</tspan></text></g>
<g id="n138" transform="translate(5550,1310.67)"><use href="#w248"/><text y="21.3">entropy = -0.0000<tspan x="0" dy="20">samples = 9</tspan><tspan x="0" dy="20">value = [ 1.70652877  0.        ]</tspan></text></g>
<g id="n139" transform="translate(266,1429.33)"><use href="#w224"/><text y="21.3">X[0] &lt;= 0.7558<tspan x="0" dy="20">entropy = 0.393556693818</tspan><tspan x="0" dy="20">samples = 5</tspan></text></g>
<g id="n140" transform="translate(525,1429.33)"><use href="#w248"/><text y="21.3">entropy = 0.0000<tspan x="0" dy="20">samples = 3</tspan><tspan x="0" dy="20">value = [ 0.          7.37944409]</tspan></text></g>
<g id="n141" transform="translate(1358,1429.33)"><use href="#w262"/><text y="21.3">entropy = 0.0000<tspan x="0" dy="20">samples = 6</tspan><tspan x="0" dy="20">value = [  0.          14.75888817]</tspan></text></g>
<g id="n142" transform="translate(1624,1429.33)"><use href="#w224"/><text y="21.3">X[5] &lt;= -18.4732<tspan x="0" dy="20">entropy = 0.464372897601</tspan><tspan x="0" dy="20">samples = 15</tspan></text></g>
<g id="n143" transform="translate(2278,1429.33)"><use href="#w248"/><text y="21.3">entropy = 0.0000<tspan x="0" dy="20">samples = 1</tspan><tspan x="0" dy="20">value = [ 0.15513898  0.        ]</tspan></text></g>
<g id="n144" transform="translate(2539,1429.33)"><use href="#w224"/><text y="21.3">X[1] &lt;= 0.0071<tspan x="0" dy="20">entropy = 0.121547622806</tspan><tspan x="0" dy="20">samples = 6</tspan></text></g>
<g id="n145" transform="translate(4107,1429.33)"><use href="#w248"/><text y="21.3">entropy = 0.0000<tspan x="0" dy="20">samples = 3</tspan><tspan x="0" dy="20">value = [ 0.          5.53458306]</tspan></text></g>
<g id="n146" transform="translate(4379,1429.33)"><use href="#w248"/><text y="21.3">entropy = -0.0000<tspan x="0" dy="20">samples = 1</tspan><tspan x="0" dy="20">value = [ 0.15513898  0.        ]</tspan></text></g>
<g id="n147" transform="translate(4781,1429.33)"><use href="#w248"/><text y="21.3">entropy = 0.0000<tspan x="0" dy="20">samples = 18</tspan><tspan x="0" dy="20">value = [ 3.56819651  0.        ]</tspan></text></g>
<g id="n148" transform="translate(5035,1429.33)"><use href="#w215"/><text y="21.3">X[5] &lt;= -5.7082<tspan x="0" dy="20">entropy = 0.91400628069</tspan><tspan x="0" dy="20">samples = 26</tspan></text></g>
<g id="n149" transform="translate(5290,1429.33)"><use href="#w248"/><text y="21.3">entropy = 0.0000<tspan x="0" dy="20">samples = 5</tspan><tspan x="0" dy="20">value = [ 1.24111183  0.        ]</tspan></text></g>
<g id="n150" transform="translate(5550,1429.33)"><use href="#w224"/><text y="21.3">X[2] &lt;= 3.8084<tspan x="0" dy="20">entropy = 0.268497830089</tspan><tspan x="0" dy="20">samples = 8</tspan></text></g>
<g id="n151" transform="translate(129,1548)"><use href="#w248"/><text y="21.3">entropy = 0.0000<tspan x="0" dy="20">samples = 3</tspan><tspan x="0" dy="20">value = [ 0.          7.37944409]</tspan></text></g>
<g id="n152" transform="translate(401,1548)"><use href="#w248"/><text y="21.3">entropy = -0.0000<tspan x="0" dy="20">samples = 2</tspan><tspan x="0" dy="20">value = [ 0.62055591  0.        ]</tspan></text></g>
<g id="n153" transform="translate(1495,1548)"><use href="#w248"/><text y="21.3">entropy = 0.0000<tspan x="0" dy="20">samples = 2</tspan><tspan x="0" dy="20">value = [ 0.62055591  0.        ]</tspan></text></g>
<g id="n154" transform="translate(1755,1548)"><use href="#w224"/><text y="21.3">X[7] &lt;= -0.1323<tspan x="0" dy="20">entropy = 0.367259359003</tspan><tspan x="0" dy="20">samples = 13</tspan></text></g>
<g id="n155" transform="translate(2403,1548)"><use href="#w248"/><text y="21.3">entropy = 0.0000<tspan x="0" dy="20">samples = 1</tspan><tspan x="0" dy="20">value = [ 0.15513898  0.        ]</tspan></text></g>
<g id="n156" transform="translate(2675,1548)"><use href="#w248"/><text y="21.3">entropy = 0.0000<tspan x="0" dy="20">samples = 5</tspan><tspan x="0" dy="20">value = [ 0.          9.22430511]</tspan></text></g>
<g id="n157" transform="translate(4899,1548)"><use href="#w248"/><text y="21.3">entropy = 0.0000<tspan x="0" dy="20">samples = 1</tspan><tspan x="0" dy="20">value = [ 0.          3.68972204]</tspan></text></g>
<g id="n158" transform="translate(5150,1548)"><use href="#w206"/><text y="21.3">X[7] &lt;= 6.9786<tspan x="0" dy="20">entropy = 0.9832249275</tspan><tspan x="0" dy="20">samples = 25</tspan></text></g>
<g id="n159" transform="translate(5518,1548)"><use href="#w233"/><text y="21.3">X[3] &lt;= 4.5294<tspan x="0" dy="20">entropy = 0.0929535288788</tspan><tspan x="0" dy="20">samples = 6</tspan></text></g>
<g id="n160" transform="translate(5782,1548)"><use href="#w248"/><text y="21.3">entropy = -0.0000<tspan x="0" dy="20">samples = 2</tspan><tspan x="0" dy="20">value = [ 0.46541694  0.        ]</tspan></text></g>
<g id="n161" transform="translate(1625,1666.67)"><use href="#w248"/><text y="21.3">entropy = 0.0000<tspan x="0" dy="20">samples = 2</tspan><tspan x="0" dy="20">value = [ 0.          7.37944409]</tspan></text></g>
<g id="n162" transform="translate(1885,1666.67)"><use href="#w224"/><text y="21.3">X[1] &lt;= -0.0673<tspan x="0" dy="20">entropy = 0.505948983849</tspan><tspan x="0" dy="20">samples = 11</tspan></text></g>
<g id="n163" transform="translate(4899,1666.67)"><use href="#w224"/><text y="21.3">X[3] &lt;= 4.0456<tspan x="0" dy="20">entropy = 0.724828473227</tspan><tspan x="0" dy="20">samples = 14</tspan></text></g>
<g id="n164" transform="translate(5158,1666.67)"><use href="#w248"/><text y="21.3">entropy = -0.0000<tspan x="0" dy="20">samples = 11</tspan><tspan x="0" dy="20">value = [ 3.56819651  0.        ]</tspan></text></g>
<g id="n165" transform="translate(5511,1666.67)"><use href="#w224"/><text y="21.3">X[5] &lt;= 1.5781<tspan x="0" dy="20">entropy = 0.393556693818</tspan><tspan x="0" dy="20">samples = 2</tspan></text></g>
<g id="n166" transform="translate(5777,1666.67)"><use href="#w262"/><text y="21.3">entropy = 0.0000<tspan x="0" dy="20">samples = 4</tspan><tspan x="0" dy="20">value = [  0.          11.06916613]</tspan></text></g>
<g id="n167" transform="translate(1756,1785.33)"><use href="#w224"/><text y="21.3">X[2] &lt;= -0.5318<tspan x="0" dy="20">entropy = 0.393556693818</tspan><tspan x="0" dy="20">samples = 9</tspan></text></g>
<g id="n168" transform="translate(2016,1785.33)"><use href="#w248"/><text y="21.3">entropy = 0.0000<tspan x="0" dy="20">samples = 2</tspan><tspan x="0" dy="20">value = [ 0.46541694  0.        ]</tspan></text></g>
<g id="n169" transform="translate(4654,1785.33)"><use href="#w224"/><text y="21.3">X[6] &lt;= 4.5357<tspan x="0" dy="20">entropy = 0.324770020437</tspan><tspan x="0" dy="20">samples = 7</tspan></text></g>
<g id="n170" transform="translate(4914,1785.33)"><use href="#w248"/><text y="21.3">entropy = -0.0000<tspan x="0" dy="20">samples = 7</tspan><tspan x="0" dy="20">value = [ 1.39625081  0.        ]</tspan></text></g>
<g id="n171" transform="translate(5250,1785.33)"><use href="#w248"/><text y="21.3">entropy = 0.0000<tspan x="0" dy="20">samples = 1</tspan><tspan x="0" dy="20">value = [ 0.          1.84486102]</tspan></text></g>
<g id="n172" transform="translate(5523,1785.33)"><use href="#w248"/><text y="21.3">entropy = -0.0000<tspan x="0" dy="20">samples = 1</tspan><tspan x="0" dy="20">value = [ 0.15513898  0.        ]</tspan></text></g>
<g id="n173" transform="translate(1626,1904)"><use href="#w248"/><text y="21.3">entropy = 0.0000<tspan x="0" dy="20">samples = 3</tspan><tspan x="0" dy="20">value = [ 0.46541694  0.        ]</tspan></text></g>
<g id="n174" transform="translate(1887,1904)"><use href="#w224"/><text y="21.3">X[6] &lt;= 11.2928<tspan x="0" dy="20">entropy = 0.243893247635</tspan><tspan x="0" dy="20">samples = 6</tspan></text></g>
<g id="n175" transform="translate(4518,1904)"><use href="#w248"/><text y="21.3">entropy = 0.0000<tspan x="0" dy="20">samples = 4</tspan><tspan x="0" dy="20">value = [ 0.          7.37944409]</tspan></text></g>
<g id="n176" transform="translate(4791,1904)"><use href="#w248"/><text y="21.3">entropy = -0.0000<tspan x="0" dy="20">samples = 3</tspan><tspan x="0" dy="20">value = [ 0.46541694  0.        ]</tspan></text></g>
<g id="n177" transform="translate(1756,2022.67)"><use href="#w248"/><text y="21.3">entropy = 0.0000<tspan x="0" dy="20">samples = 1</tspan><tspan x="0" dy="20">value = [ 0.15513898  0.        ]</tspan></text></g>
<g id="n178" transform="translate(2016,2022.67)"><use href="#w224"/><text y="21.3">X[0] &lt;= 1.6314<tspan x="0" dy="20">entropy = 0.180492712056</tspan><tspan x="0" dy="20">samples = 5</tspan></text></g>
<g id="n179" transform="translate(1885,2141.33)"><use href="#w248"/><text y="21.3">entropy = 0.0000<tspan x="0" dy="20">samples = 3</tspan><tspan x="0" dy="20">value = [ 0.          9.22430511]</tspan></text></g>
<g id="n180" transform="translate(2146,2141.33)"><use href="#w224"/><text y="21.3">X[3] &lt;= 2.5817<tspan x="0" dy="20">entropy = 0.594545293643</tspan><tspan x="0" dy="20">samples = 2</tspan></text></g>
<g id="n181" transform="translate(2010,2260)"><use href="#w248"/><text y="21.3">entropy = 0.0000<tspan x="0" dy="20">samples = 1</tspan><tspan x="0" dy="20">value = [ 0.31027796  0.        ]</tspan></text></g>
<g id="n182" transform="translate(2281,2260)"><use href="#w248"/><text y="21.3">entropy = 0.0000<tspan x="0" dy="20">samples = 1</tspan><tspan x="0" dy="20">value = [ 0.          1.84486102]</tspan></text></g>
</svg>
